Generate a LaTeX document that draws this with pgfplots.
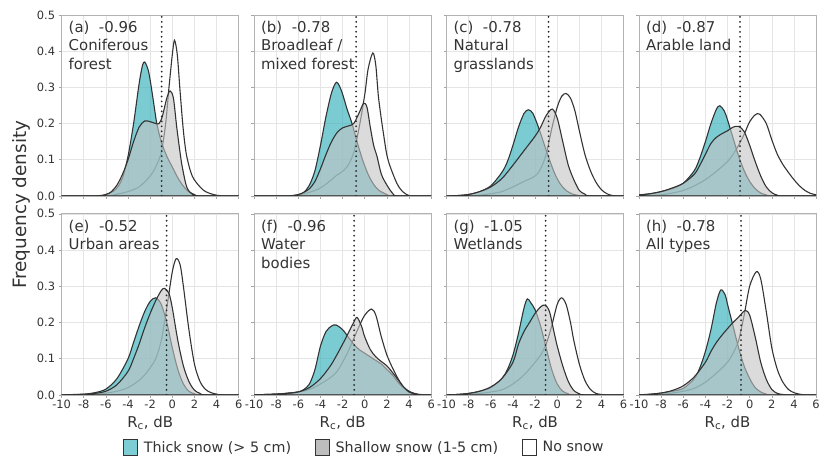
\documentclass[border=0pt]{standalone}
\usepackage{pgfplots}
\pgfplotsset{compat=1.18}
\usepgfplotslibrary{groupplots}
\usepackage{fontspec}
\setmainfont{DejaVu Sans}
\definecolor{teal1}{HTML}{33B0BA}
\definecolor{gray1}{HTML}{C4C4C4}
\definecolor{lc}{HTML}{333333}
\definecolor{legteal}{HTML}{7DCDD4}
\definecolor{leggray}{HTML}{BDBDBD}
\definecolor{txt}{HTML}{333333}
\pgfplotsset{
  nosnow/.style={draw=lc, line width=1.1pt, fill=white, smooth, tension=0.5, forget plot},
  thick/.style={draw=lc, line width=1.1pt, fill=teal1, fill opacity=0.65, smooth, tension=0.5, forget plot},
  shallow/.style={draw=lc, line width=1.1pt, fill=gray1, fill opacity=0.6, smooth, tension=0.5, forget plot},
  vline/.style={black!85, line width=2pt, dash pattern=on 0pt off 5pt, line cap=round, forget plot},
}
\tikzset{plabel/.style={anchor=north west, align=left, font=\fontsize{15}{18.5}\selectfont, text=txt}}
\begin{document}
\begin{tikzpicture}
\begin{groupplot}[
  group style={group size=4 by 2, horizontal sep=15.5pt, vertical sep=18pt},
  width=178pt, height=182pt, scale only axis,
  xmin=-10, xmax=6, ymin=0, ymax=0.5,
  xtick={-10,-8,-6,-4,-2,0,2,4,6},
  xticklabels={-10,-8,-6,-4,-2,0,2,4,6},
  ytick={0,0.1,0.2,0.3,0.4,0.5},
  yticklabels={0.0,0.1,0.2,0.3,0.4,0.5},
  xtick pos=bottom, ytick pos=left,
  tick align=outside, major tick length=3pt,
  tick style={color=black!35, line width=0.6pt},
  tick label style={font=\fontsize{11.5}{12}\selectfont, text=txt},
  xticklabel style={yshift=1pt},
  grid=major, major grid style={color=black!10, line width=0.6pt},
  axis line style={color=black!30, line width=0.7pt},
  xlabel style={font=\fontsize{15}{16}\selectfont, text=txt},
  legend image code/.code={\draw[#1, line width=0.8pt] (0pt,-8pt) rectangle (14pt,8pt);},
]
% (a)
\nextgroupplot[xticklabels={}]
\addplot[nosnow] coordinates {(-10,0) (-6,0) (-5,0.005) (-4,0.012) (-3,0.025) (-2,0.055) (-1.5,0.08) (-1,0.12) (-0.6,0.2) (-0.3,0.3) (0,0.39) (0.2,0.43) (0.45,0.39) (0.7,0.29) (1,0.18) (1.3,0.11) (1.8,0.055) (2.5,0.025) (3,0.012) (3.7,0.004) (4.5,0) (6,0)} \closedcycle;
\addplot[thick] coordinates {(-10,0) (-6.5,0) (-6,0.004) (-5.5,0.01) (-5,0.022) (-4.5,0.05) (-4,0.11) (-3.5,0.2) (-3,0.31) (-2.7,0.36) (-2.5,0.37) (-2.2,0.35) (-2,0.32) (-1.7,0.26) (-1.4,0.2) (-1,0.15) (-0.5,0.11) (0,0.08) (0.5,0.05) (1,0.027) (1.5,0.011) (2,0.004) (2.5,0) (6,0)} \closedcycle;
\addplot[shallow] coordinates {(-10,0) (-7,0) (-6,0.004) (-5.5,0.012) (-5,0.03) (-4.5,0.06) (-4,0.1) (-3.5,0.15) (-3,0.19) (-2.5,0.207) (-2,0.205) (-1.5,0.2) (-1.2,0.2) (-0.9,0.22) (-0.5,0.27) (-0.2,0.29) (0.1,0.27) (0.4,0.19) (0.7,0.12) (0.9,0.08) (1.3,0.025) (1.8,0.005) (2.5,0) (6,0)} \closedcycle;
\addplot[vline] coordinates {(-0.96,0) (-0.96,0.5)};
\node[plabel] at (rel axis cs:0.02,0.985) {(a)\ \ -0.96\\Coniferous\\forest};
% (b)
\nextgroupplot[xticklabels={}, yticklabels={}]
\addplot[nosnow] coordinates {(-10,0) (-7,0) (-6,0.003) (-5,0.01) (-4,0.022) (-3,0.045) (-2.5,0.058) (-2,0.068) (-1.5,0.085) (-1,0.12) (-0.5,0.19) (0,0.28) (0.3,0.35) (0.73,0.395) (1,0.36) (1.25,0.27) (1.7,0.17) (2.1,0.1) (2.9,0.035) (3.5,0.01) (4.2,0) (6,0)} \closedcycle;
\addplot[thick] coordinates {(-10,0) (-6.5,0) (-6,0.003) (-5.5,0.01) (-5,0.03) (-4.5,0.07) (-4,0.14) (-3.5,0.22) (-3,0.285) (-2.55,0.314) (-2.1,0.29) (-1.6,0.24) (-1.15,0.2) (-0.7,0.15) (-0.2,0.1) (0.3,0.06) (0.8,0.032) (1.3,0.015) (2,0.004) (2.5,0) (6,0)} \closedcycle;
\addplot[shallow] coordinates {(-10,0) (-7,0) (-6,0.004) (-5.5,0.01) (-5,0.02) (-4.5,0.04) (-4,0.075) (-3.5,0.115) (-3,0.15) (-2.5,0.175) (-2,0.188) (-1.5,0.193) (-1,0.2) (-0.5,0.23) (-0.1,0.256) (0.2,0.245) (0.5,0.19) (0.8,0.14) (1.1,0.11) (1.5,0.06) (2,0.03) (2.5,0.008) (3,0) (6,0)} \closedcycle;
\addplot[vline] coordinates {(-0.78,0) (-0.78,0.5)};
\node[plabel] at (rel axis cs:0.02,0.985) {(b)\ \ -0.78\\Broadleaf /\\mixed forest};
% (c)
\nextgroupplot[xticklabels={}, yticklabels={}]
\addplot[nosnow] coordinates {(-10,0) (-8,0) (-7,0.002) (-6,0.006) (-5,0.012) (-4,0.025) (-3,0.04) (-2,0.055) (-1.5,0.075) (-1,0.115) (-0.5,0.185) (0,0.245) (0.4,0.275) (0.8,0.283) (1.2,0.27) (1.6,0.235) (2,0.18) (2.5,0.115) (3,0.07) (3.5,0.038) (4,0.017) (4.5,0.006) (5,0.001) (5.5,0) (6,0)} \closedcycle;
\addplot[thick] coordinates {(-10,0) (-9,0.001) (-8,0.004) (-7,0.012) (-6,0.028) (-5,0.065) (-4.5,0.095) (-4,0.14) (-3.5,0.19) (-3,0.228) (-2.6,0.238) (-2.2,0.228) (-1.7,0.19) (-1.2,0.145) (-0.7,0.1) (-0.2,0.06) (0.3,0.032) (0.8,0.015) (1.4,0.005) (2,0.001) (2.5,0) (6,0)} \closedcycle;
\addplot[shallow] coordinates {(-10,0) (-9,0.001) (-8,0.004) (-7,0.012) (-6,0.025) (-5,0.048) (-4,0.085) (-3,0.125) (-2,0.165) (-1.5,0.19) (-1,0.222) (-0.45,0.24) (0,0.215) (0.5,0.15) (1,0.085) (1.5,0.045) (2,0.015) (2.5,0.005) (3,0) (6,0)} \closedcycle;
\addplot[vline] coordinates {(-0.78,0) (-0.78,0.5)};
\node[plabel] at (rel axis cs:0.02,0.985) {(c)\ \ -0.78\\Natural\\grasslands};
% (d)
\nextgroupplot[xticklabels={}, yticklabels={}]
\addplot[nosnow] coordinates {(-10,0) (-9,0.001) (-8,0.003) (-7,0.008) (-6,0.015) (-5,0.028) (-4,0.045) (-3,0.068) (-2,0.095) (-1.5,0.115) (-1,0.14) (-0.5,0.17) (0,0.205) (0.5,0.224) (0.9,0.226) (1.5,0.2) (2,0.155) (2.5,0.115) (3,0.087) (3.5,0.065) (4,0.045) (4.5,0.028) (5,0.015) (5.5,0.007) (6,0.003)} \closedcycle;
\addplot[thick] coordinates {(-10,0.003) (-9,0.006) (-8,0.012) (-7,0.02) (-6,0.035) (-5,0.07) (-4.5,0.105) (-4,0.15) (-3.5,0.2) (-3,0.24) (-2.7,0.249) (-2.3,0.235) (-2,0.21) (-1.5,0.16) (-1,0.11) (-0.5,0.07) (0,0.04) (0.5,0.02) (1,0.008) (1.5,0.003) (2,0) (6,0)} \closedcycle;
\addplot[shallow] coordinates {(-10,0.002) (-9,0.006) (-8,0.012) (-7,0.022) (-6,0.035) (-5,0.06) (-4.5,0.085) (-4,0.115) (-3.5,0.145) (-3,0.162) (-2.5,0.172) (-2,0.18) (-1.5,0.19) (-1,0.192) (-0.5,0.178) (0,0.14) (0.5,0.095) (1,0.055) (1.5,0.025) (2,0.009) (2.5,0.002) (3,0) (6,0)} \closedcycle;
\addplot[vline] coordinates {(-0.87,0) (-0.87,0.5)};
\node[plabel] at (rel axis cs:0.02,0.985) {(d)\ \ -0.87\\Arable land};
% (e)
\nextgroupplot[xlabel={R\textsubscript{c}, dB},
  ylabel={Frequency density},
  ylabel style={font=\fontsize{18.5}{20}\selectfont, text=txt, at={(ticklabel cs:1.05)}, anchor=near ticklabel},
  legend style={at={(1.71,-0.29)}, anchor=center, draw=none, fill=none, legend columns=3,
    font=\fontsize{14.4}{16}\selectfont, text=txt,
    /tikz/every odd column/.append style={column sep=4pt},
    /tikz/every even column/.append style={column sep=22pt}},
  legend cell align=left]
\addlegendimage{fill=legteal, draw=lc}\addlegendentry{Thick snow (> 5 cm)}
\addlegendimage{fill=leggray, draw=lc}\addlegendentry{Shallow snow (1-5 cm)}
\addlegendimage{fill=white, draw=lc}\addlegendentry{No snow}
\addplot[nosnow] coordinates {(-10,0) (-7,0.002) (-6,0.005) (-5,0.01) (-4,0.02) (-3,0.04) (-2.5,0.055) (-2,0.075) (-1.5,0.1) (-1,0.15) (-0.5,0.24) (0,0.34) (0.35,0.376) (0.7,0.36) (1,0.3) (1.5,0.18) (2,0.085) (2.5,0.037) (3,0.015) (3.5,0.006) (4,0.002) (4.5,0) (6,0)} \closedcycle;
\addplot[thick] coordinates {(-10,0) (-8,0.002) (-7,0.006) (-6,0.016) (-5,0.045) (-4,0.1) (-3.5,0.145) (-3,0.19) (-2.5,0.23) (-2,0.258) (-1.5,0.268) (-1,0.25) (-0.5,0.2) (0,0.13) (0.5,0.07) (1,0.03) (1.5,0.01) (2,0.003) (2.5,0) (6,0)} \closedcycle;
\addplot[shallow] coordinates {(-10,0) (-8,0.001) (-7,0.004) (-6,0.01) (-5,0.028) (-4,0.065) (-3.5,0.1) (-3,0.14) (-2.5,0.185) (-2,0.225) (-1.5,0.26) (-1,0.288) (-0.7,0.294) (-0.3,0.28) (0,0.24) (0.5,0.15) (1,0.08) (1.5,0.037) (2,0.013) (2.5,0.004) (3,0) (6,0)} \closedcycle;
\addplot[vline] coordinates {(-0.52,0) (-0.52,0.5)};
\node[plabel] at (rel axis cs:0.02,0.985) {(e)\ \ -0.52\\Urban areas};
% (f)
\nextgroupplot[xlabel={R\textsubscript{c}, dB}, yticklabels={}]
\addplot[nosnow] coordinates {(-10,0) (-8,0.002) (-6,0.008) (-5,0.015) (-4,0.03) (-3,0.05) (-2.5,0.065) (-2,0.09) (-1.5,0.12) (-1,0.155) (-0.5,0.19) (0,0.22) (0.6,0.237) (1,0.22) (1.5,0.16) (2,0.11) (2.5,0.075) (3,0.045) (3.5,0.022) (4,0.01) (4.5,0.004) (5,0.001) (5.5,0) (6,0)} \closedcycle;
\addplot[thick] coordinates {(-10,0) (-8,0.002) (-7,0.004) (-6,0.008) (-5.5,0.015) (-5,0.03) (-4.5,0.07) (-4,0.135) (-3.5,0.175) (-3,0.19) (-2.6,0.193) (-2,0.18) (-1.5,0.16) (-1,0.14) (-0.5,0.125) (0,0.115) (0.5,0.105) (1,0.095) (1.5,0.085) (2,0.07) (2.5,0.055) (3,0.035) (3.5,0.02) (4,0.008) (4.5,0.002) (5,0) (6,0)} \closedcycle;
\addplot[shallow] coordinates {(-10,0) (-8,0.002) (-7,0.004) (-6,0.008) (-5,0.02) (-4,0.045) (-3,0.085) (-2,0.14) (-1.5,0.17) (-1,0.2) (-0.7,0.214) (-0.3,0.19) (0,0.16) (0.5,0.125) (1,0.105) (1.5,0.092) (2,0.08) (2.5,0.062) (3,0.042) (3.5,0.022) (4,0.008) (4.5,0.003) (5,0) (6,0)} \closedcycle;
\addplot[vline] coordinates {(-0.96,0) (-0.96,0.5)};
\node[plabel] at (rel axis cs:0.02,0.985) {(f)\ \ -0.96\\Water\\bodies};
% (g)
\nextgroupplot[xlabel={R\textsubscript{c}, dB}, yticklabels={}]
\addplot[nosnow] coordinates {(-10,0) (-8,0.002) (-7,0.004) (-6,0.008) (-5,0.014) (-4,0.03) (-3,0.055) (-2,0.09) (-1.5,0.11) (-1,0.14) (-0.5,0.19) (0,0.25) (0.4,0.268) (0.8,0.25) (1.2,0.2) (1.5,0.15) (2,0.085) (2.5,0.04) (3,0.015) (3.5,0.004) (4,0.001) (4.5,0) (6,0)} \closedcycle;
\addplot[thick] coordinates {(-10,0) (-9,0.001) (-8,0.004) (-7,0.01) (-6,0.02) (-5,0.045) (-4.5,0.07) (-4,0.11) (-3.5,0.17) (-3,0.24) (-2.7,0.265) (-2.4,0.255) (-2,0.235) (-1.5,0.19) (-1,0.13) (-0.5,0.07) (0,0.03) (0.5,0.01) (1,0.003) (1.5,0) (6,0)} \closedcycle;
\addplot[shallow] coordinates {(-10,0) (-9,0.001) (-8,0.004) (-7,0.01) (-6,0.022) (-5,0.045) (-4,0.09) (-3.5,0.14) (-3,0.175) (-2.5,0.2) (-2,0.225) (-1.5,0.243) (-1.1,0.248) (-0.7,0.23) (-0.3,0.175) (0,0.135) (0.5,0.08) (1,0.037) (1.5,0.012) (2,0.003) (2.5,0) (6,0)} \closedcycle;
\addplot[vline] coordinates {(-1.05,0) (-1.05,0.5)};
\node[plabel] at (rel axis cs:0.02,0.985) {(g)\ \ -1.05\\Wetlands};
% (h)
\nextgroupplot[xlabel={R\textsubscript{c}, dB}, yticklabels={}]
\addplot[nosnow] coordinates {(-10,0) (-8,0.002) (-7,0.005) (-6,0.01) (-5,0.018) (-4,0.035) (-3,0.06) (-2,0.09) (-1.5,0.115) (-1,0.15) (-0.5,0.22) (0,0.3) (0.6,0.34) (1,0.32) (1.5,0.23) (2,0.13) (2.5,0.07) (3,0.035) (3.5,0.015) (4,0.006) (4.5,0.002) (5,0) (6,0)} \closedcycle;
\addplot[thick] coordinates {(-10,0) (-9,0.001) (-8,0.005) (-7,0.01) (-6,0.018) (-5,0.045) (-4.5,0.075) (-4,0.12) (-3.5,0.18) (-3,0.255) (-2.6,0.29) (-2.2,0.275) (-2,0.25) (-1.5,0.19) (-1,0.13) (-0.5,0.08) (0,0.045) (0.5,0.02) (1,0.008) (1.5,0.002) (2,0) (6,0)} \closedcycle;
\addplot[shallow] coordinates {(-10,0) (-9,0.002) (-8,0.005) (-7,0.012) (-6,0.025) (-5,0.05) (-4,0.09) (-3.5,0.12) (-3,0.145) (-2.5,0.165) (-2,0.183) (-1.5,0.2) (-1,0.215) (-0.4,0.233) (0,0.22) (0.5,0.16) (1,0.09) (1.5,0.043) (2,0.015) (2.5,0.004) (3,0.001) (3.5,0) (6,0)} \closedcycle;
\addplot[vline] coordinates {(-0.78,0) (-0.78,0.5)};
\node[plabel] at (rel axis cs:0.02,0.985) {(h)\ \ -0.78\\All types};
\end{groupplot}
\path ([xshift=-62pt,yshift=15pt]group c1r1.north west) rectangle ([xshift=2.5pt,yshift=-65pt]group c4r2.south east);
\end{tikzpicture}
\end{document}
